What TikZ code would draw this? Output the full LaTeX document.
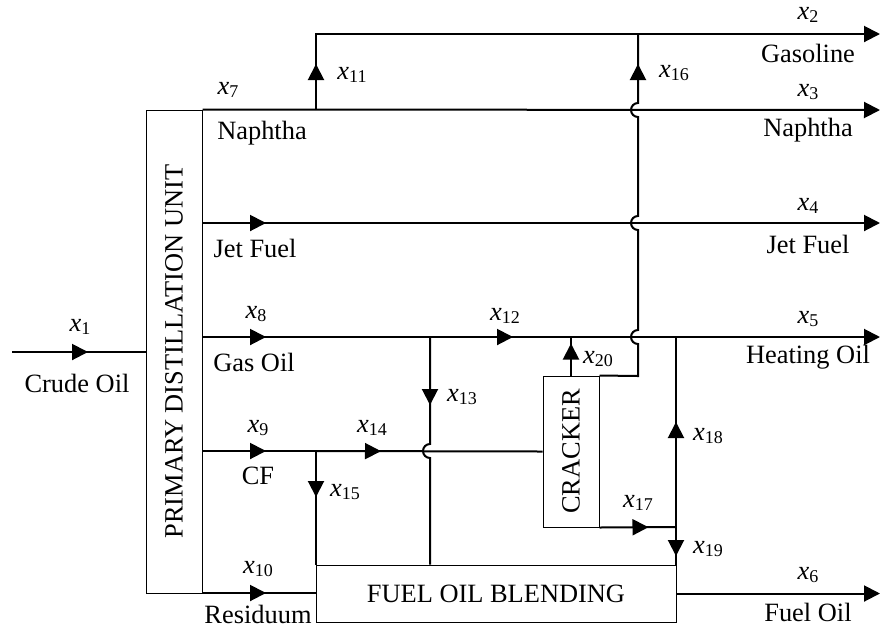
\documentclass[tikz,border=0pt]{standalone}
\usepackage{fontspec}
\setmainfont{Liberation Serif}
\usepackage{graphicx}
\usetikzlibrary{arrows.meta,decorations.markings}
\newcommand{\unitfont}{\fontsize{13.2}{15}\selectfont}
\newcommand{\xv}[1]{\textit{x}\raisebox{-1.6pt}{\fontsize{9}{10}\selectfont #1}}
\tikzset{
  flow/.style={line width=1pt},
  outflow/.style={flow,-{Triangle[length=8pt,width=8pt]}},
  tipat/.style={postaction={decorate},decoration={markings,mark=at position #1 with {\arrow{Triangle[length=8pt,width=8pt]}}}},
  unit/.style={draw,line width=0.5pt,inner sep=0pt,font=\unitfont},
  lbl/.style={inner sep=0pt,font=\unitfont}
}

\begin{document}
\begin{tikzpicture}[x=0.5pt,y=-0.5pt]
\useasboundingbox (0,0) rectangle (880,629);
% units
\node[unit,minimum width=28pt,minimum height=241.5pt] (pdu) at (174,351.5) {\rotatebox{90}{PRIMARY DISTILLATION UNIT}};
\node[unit,minimum width=28pt,minimum height=75.5pt] (crk) at (571,451.5) {\rotatebox{90}{CRACKER}};
\node[unit,minimum width=180pt,minimum height=28.5pt] (fob) at (496,593.5) {FUEL OIL BLENDING};
% ports and junctions
\coordinate (crude) at (12,352);
\coordinate (nap) at (pdu.north east);
\coordinate (jet) at (202,223);
\coordinate (gso) at (202,337);
\coordinate (cf) at (202,451);
\coordinate (res) at (202,593);
\coordinate (j11) at (316,110);
\coordinate (g11) at (316,34);
\coordinate (j13) at (430,337);
\coordinate (j20) at (crk.north |- gso);
\coordinate (j18) at (676,337);
\coordinate (j15) at (316,451);
\coordinate (j17) at (676,527);
\coordinate (c16) at (638,376);
\coordinate (g16) at (638,34);
\coordinate (o2) at (880,34);
\coordinate (o3) at (880,110);
\coordinate (o4) at (880,223);
\coordinate (o5) at (880,337);
\coordinate (o6) at (880,593.5);
% streams
\draw[flow,tipat=38pt] (crude) -- (crude -| pdu.west);
\draw[outflow] (nap) -- (o3);
\draw[outflow,tipat=23pt] (j11) -- (g11) -- (o2);
\draw[outflow,tipat=32pt] (jet) -- (o4);
\draw[flow,tipat=32pt] (gso) -- (j13);
\draw[flow,tipat=41.5pt] (j13) -- (j20);
\draw[outflow] (j20) -- (o5);
\draw[flow,tipat=32pt] (cf) -- (j15);
\draw[flow,tipat=32.5pt] (j15) -- (crk.west);
\draw[flow,tipat=32pt] (res) -- (res -| fob.west);
\draw[outflow] (fob.east) -- (o6);
\draw[flow,tipat=23pt] (j15) -- (j15 |- fob.north);
\draw[flow,tipat=34pt] (j13) -- (430,444) arc[start angle=90,end angle=270,radius=3.5pt] -- (j13 |- fob.north);
\draw[flow,tipat=16pt] (crk.north) -- (j20);
\draw[flow,tipat=-15pt] (crk.north east) -- (c16) -- (638,344) arc[start angle=270,end angle=90,radius=3.5pt]
  -- (638,230) arc[start angle=270,end angle=90,radius=3.5pt]
  -- (638,117) arc[start angle=270,end angle=90,radius=3.5pt] -- (g16);
\draw[flow,tipat=24.5pt] (crk.south east) -- (j17);
\draw[flow,tipat=52.5pt] (j17) -- (j18);
\draw[flow,tipat=14.5pt] (j17) -- (j17 |- fob.north);
% stream labels
\node[lbl] (l1) at (80,327) {\xv{1}};
\node[lbl] (n1) at (77,383) {Crude Oil};
\node[lbl] (l7) at (228,90) {\xv{7}};
\node[lbl] (n7) at (262,133) {Naphtha};
\node[lbl] (l11) at (352,75) {\xv{11}};
\node[lbl] (nj) at (255,248) {Jet Fuel};
\node[lbl] (l8) at (256,314) {\xv{8}};
\node[lbl] (n8) at (254,362) {Gas Oil};
\node[lbl] (l9) at (258,428) {\xv{9}};
\node[lbl] (n9) at (258,476) {CF};
\node[lbl] (l14) at (372,428) {\xv{14}};
\node[lbl] (l15) at (345,492) {\xv{15}};
\node[lbl] (l10) at (258,569) {\xv{10}};
\node[lbl] (n10) at (258,614) {Residuum};
\node[lbl] (l13) at (462,397) {\xv{13}};
\node[lbl] (l12) at (505,316) {\xv{12}};
\node[lbl] (l20) at (598,359) {\xv{20}};
\node[lbl] (l17) at (638,503) {\xv{17}};
\node[lbl] (l18) at (708,436) {\xv{18}};
\node[lbl] (l19) at (708,549) {\xv{19}};
\node[lbl] (l16) at (674,73) {\xv{16}};
\node[lbl] (l2) at (808,15) {\xv{2}};
\node[lbl] (n2) at (808,53) {Gasoline};
\node[lbl] (l3) at (808,92) {\xv{3}};
\node[lbl] (n3) at (808,130) {Naphtha};
\node[lbl] (l4) at (808,206) {\xv{4}};
\node[lbl] (n4) at (808,244) {Jet Fuel};
\node[lbl] (l5) at (808,319) {\xv{5}};
\node[lbl] (n5) at (808,357) {Heating Oil};
\node[lbl] (l6) at (808,575) {\xv{6}};
\node[lbl] (n6) at (808,612) {Fuel Oil};
\end{tikzpicture}
\end{document}
